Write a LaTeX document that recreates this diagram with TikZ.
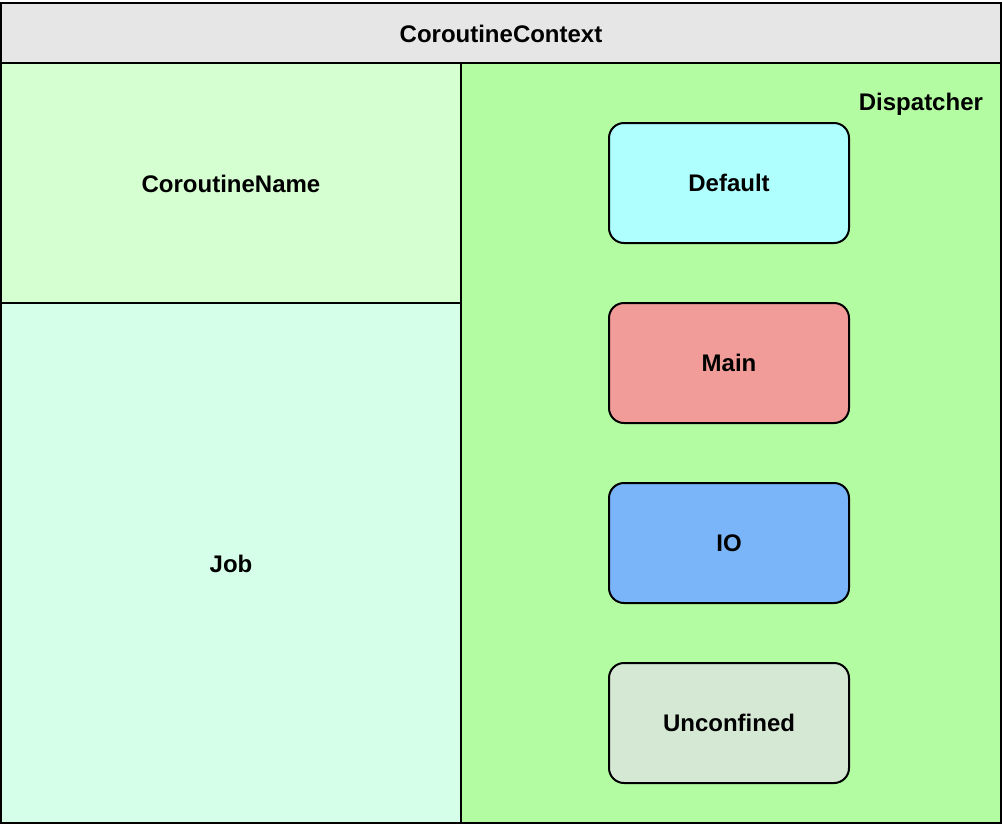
\documentclass[tikz,border=0pt]{standalone}
\usepackage{fontspec}
\setmainfont{Liberation Sans}
\usetikzlibrary{positioning}
\definecolor{ctxgrey}{HTML}{E6E6E6}
\definecolor{namegreen}{HTML}{D5FFD0}
\definecolor{jobmint}{HTML}{D5FFE8}
\definecolor{dispgreen}{HTML}{B3FCA1}
\definecolor{defcyan}{HTML}{AFFFFF}
\definecolor{mainred}{HTML}{F19C99}
\definecolor{ioblue}{HTML}{7AB5F9}
\definecolor{unconfgreen}{HTML}{D5E8D4}

\begin{document}
\begin{tikzpicture}[x=0.5pt,y=-0.5pt,font=\bfseries\fontsize{12}{14}\selectfont,
    dispbox/.style={draw,line width=1pt,outer sep=0pt,rounded corners=7.5pt,minimum width=120pt,minimum height=60pt}]
        \useasboundingbox (0,0) rectangle (1002,826);
        \fill[ctxgrey] (1,3) rectangle (1001,63);
        \fill[namegreen] (1,63) rectangle (461,303);
        \fill[jobmint] (1,303) rectangle (461,823);
        \fill[dispgreen] (461,63) rectangle (1001,823);
        \draw[line width=1pt] (1,3) rectangle (1001,823);
        \draw[line width=1pt] (1,63) -- (1001,63);
        \draw[line width=1pt] (461,63) -- (461,823);
        \draw[line width=1pt] (1,303) -- (461,303);
        \node (ctx) at (501,34) {CoroutineContext};
        \node (name) at (231,184) {CoroutineName};
        \node (job) at (231,564) {Job};
        \node[anchor=east] (disp) at (990,104) {Dispatcher};
        \node[dispbox,fill=defcyan] (default) at (729,183) {Default};
        \node[dispbox,fill=mainred,below=30pt of default] (main) {Main};
        \node[dispbox,fill=ioblue,below=30pt of main] (io) {IO};
        \node[dispbox,fill=unconfgreen,below=30pt of io] (unconf) {Unconfined};
      \end{tikzpicture}
\end{document}
